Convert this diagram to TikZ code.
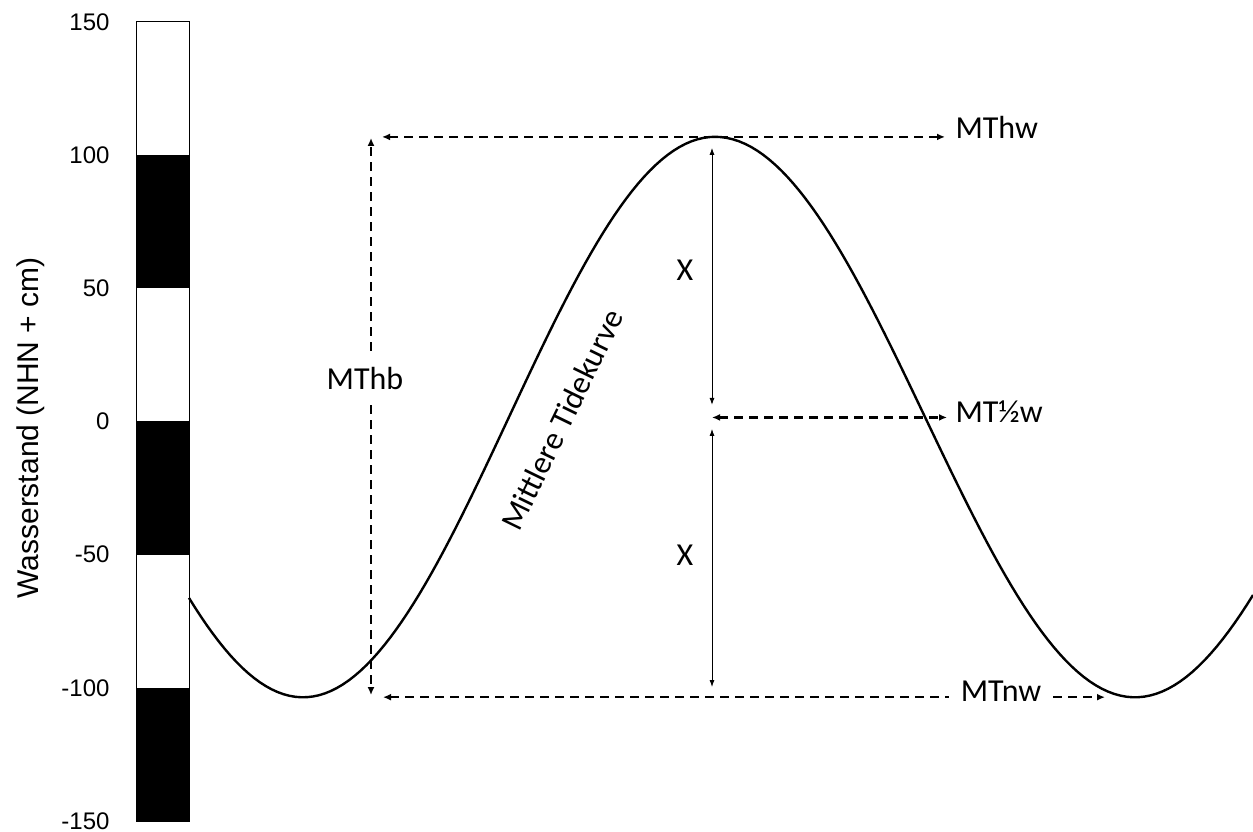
\documentclass[tikz,border=0pt]{standalone}
\usepackage{fontspec}
\setmainfont{Carlito}
\newfontfamily\arialfont{Liberation Sans}
\usetikzlibrary{arrows.meta}

\begin{document}
\begin{tikzpicture}[x=1pt,y=2.664pt,
  lbl/.style={font=\fontsize{32}{38}\selectfont},
  num/.style={font=\arialfont\fontsize{24}{29}\selectfont,anchor=east},
  dashline/.style={line width=2.2pt,dash pattern=on 9pt off 6pt,>={Latex[length=8pt,width=7pt]}},
  dimline/.style={line width=0.9pt,>={Latex[length=7pt,width=5pt]}},
  tide/.style={line width=2.4pt}]
  \useasboundingbox (0,-154.1) rectangle (1253,158.2);
  \foreach \a in {100,0,-100} \fill (136,\a) rectangle (189,\a-50);
  \draw[line width=0.9pt] (136,-150) rectangle (189,150);
  \foreach \v in {150,100,...,-150} \node[num] (tick\v) at (113,\v) {\v};
  \node[font=\arialfont\fontsize{30}{36}\selectfont,rotate=90] (ylab) at (31,-2.4) {Wasserstand (NHN + cm)};
  \draw[tide] plot[domain=189:715,samples=90] (\x,{1.65+105.2*cos((\x-715)/412*180)})
    -- plot[domain=715:1253,samples=90] (\x,{1.65+105.2*cos((\x-715)/420*180)});
  \node[lbl,rotate=64] (tidelbl) at (562,0.6) {Mittlere Tidekurve};
  \coordinate (hwl) at (382,106.8); \coordinate (hwr) at (945,106.8);
  \draw[dashline,<->] (hwl) -- (hwr); \node[lbl,anchor=west] (mthw) at (952,110.2) {MThw};
  \coordinate (hbt) at (371,106.4); \coordinate (hbb) at (371,-102.7);
  \node[lbl,inner ysep=16pt] (mthb) at (365,16.3) {MThb};
  \draw[dashline,->] (mthb.north -| hbt) -- (hbt); \draw[dashline,->] (mthb.south -| hbb) -- (hbb);
  \coordinate (hfl) at (712,1.5); \coordinate (hfr) at (947,1.5);
  \draw[dashline,<->] (hfl) -- (hfr); \node[lbl,anchor=west] (mthalf) at (952,3.8) {MT½w};
  \coordinate (nwl) at (383,-103.5); \coordinate (nwr) at (1105,-103.5);
  \node[lbl,inner xsep=12pt] (mtnw) at (1001,-101.2) {MTnw};
  \draw[dashline,<-] (nwl) -- (nwl -| mtnw.west); \draw[dashline,->] (nwr -| mtnw.east) -- (nwr);
  \coordinate (xa) at (712,102.7); \coordinate (xb) at (712,6.2);
  \coordinate (xc) at (712,-2.8); \coordinate (xd) at (712,-99.7);
  \draw[dimline,<->] (xa) -- (xb); \draw[dimline,<->] (xc) -- (xd);
  \node[lbl] (xup) at (685,56.9) {X}; \node[lbl] (xlow) at (685,-50.1) {X};
\end{tikzpicture}
\end{document}
